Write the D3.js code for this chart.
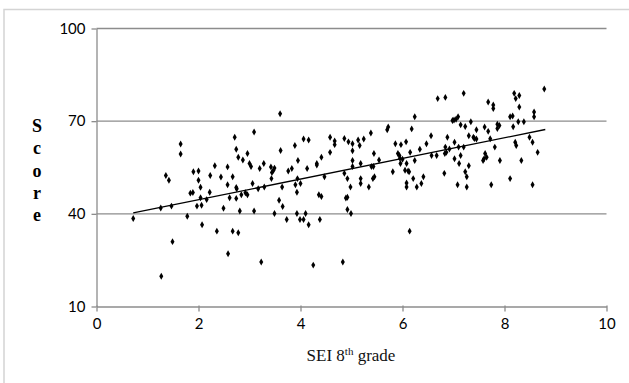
<!DOCTYPE html>
<html>
<head>
<meta charset="utf-8">
<script src="https://cdn.jsdelivr.net/npm/d3@7"></script>
<style>
  html, body { margin: 0; padding: 0; background: #fff; }
  svg { display: block; }
</style>
</head>
<body>
<div id="chart"></div>
<script>
// SEI 8th grade (x) vs score (y)
var seiValues = [
  0.72, 1.26, 1.27, 1.36, 1.42, 1.47, 1.49, 1.65, 1.65, 1.78, 1.84, 1.89, 1.90, 2.00, 2.00, 1.97, 2.04, 2.04, 2.06, 2.07,
  2.16, 2.22, 2.23, 2.32, 2.36, 2.44, 2.49, 2.57, 2.57, 2.58, 2.61, 2.67, 2.67, 2.71, 2.74, 2.74, 2.75, 2.74, 2.78, 2.78,
  2.81, 2.84, 2.87, 2.92, 2.96, 2.96, 3.00, 3.03, 3.06, 3.09, 3.09, 3.17, 3.20, 3.23, 3.28, 3.29, 3.42, 3.43, 3.44, 3.47,
  3.49, 3.49, 3.58, 3.60, 3.61, 3.64, 3.65, 3.73, 3.76, 3.83, 3.89, 3.90, 3.93, 3.93, 3.94, 3.95, 3.99, 4.00, 4.06, 4.06,
  4.10, 4.13, 4.16, 4.16, 4.25, 4.32, 4.32, 4.36, 4.38, 4.41, 4.41, 4.47, 4.58, 4.58, 4.67, 4.67, 4.83, 4.86, 4.86, 4.89,
  4.92, 4.94, 4.92, 4.92, 4.98, 4.99, 5.02, 5.02, 5.02, 5.02, 5.13, 5.16, 5.18, 5.18, 5.18, 5.24, 5.34, 5.38, 5.39, 5.42,
  5.43, 5.44, 5.45, 5.54, 5.70, 5.72, 5.81, 5.86, 5.91, 5.94, 5.95, 5.96, 5.97, 6.00, 6.05, 6.07, 6.08, 6.08, 6.08, 6.11,
  6.13, 6.14, 6.15, 6.18, 6.21, 6.24, 6.24, 6.28, 6.34, 6.37, 6.41, 6.47, 6.56, 6.57, 6.67, 6.69, 6.82, 6.84, 6.83, 6.86,
  6.84, 6.88, 6.92, 6.98, 7.01, 7.02, 7.02, 7.05, 7.08, 7.09, 7.10, 7.11, 7.14, 7.14, 7.20, 7.20, 7.23, 7.23, 7.26, 7.26,
  7.30, 7.30, 7.34, 7.39, 7.41, 7.45, 7.45, 7.58, 7.60, 7.62, 7.61, 7.65, 7.68, 7.68, 7.72, 7.74, 7.78, 7.78, 7.81, 7.86,
  7.86, 7.90, 7.91, 8.11, 8.11, 8.16, 8.17, 8.19, 8.21, 8.22, 8.23, 8.27, 8.29, 8.29, 8.33, 8.38, 8.49, 8.55, 8.55, 8.58,
  8.58, 8.65, 8.78
];
var scoreValues = [
  38.5, 41.9, 19.8, 52.4, 50.9, 42.5, 31.0, 62.6, 59.4, 39.2, 46.7, 46.9, 53.6, 53.9, 50.9, 42.5, 45.2, 48.6, 42.8, 36.5,
  44.6, 47.0, 52.4, 55.6, 34.4, 51.9, 41.8, 55.2, 49.4, 27.1, 45.2, 52.0, 34.4, 64.8, 60.9, 48.5, 48.1, 45.0, 33.9, 58.3,
  40.9, 46.2, 57.4, 46.8, 46.2, 59.5, 56.3, 55.3, 49.8, 66.5, 40.9, 48.1, 54.7, 24.4, 56.3, 48.7, 55.2, 51.4, 53.4, 54.1,
  54.8, 40.1, 44.4, 72.4, 60.5, 48.7, 42.4, 38.2, 53.9, 54.7, 62.1, 49.4, 47.0, 40.1, 51.4, 57.3, 38.2, 49.8, 38.2, 64.2,
  40.1, 54.7, 63.9, 36.5, 23.4, 56.3, 55.8, 46.2, 38.2, 45.6, 58.3, 52.0, 59.9, 64.8, 63.6, 62.4, 24.4, 64.4, 53.1, 45.1,
  45.4, 63.3, 51.4, 41.4, 48.7, 40.1, 62.7, 60.4, 57.3, 55.3, 63.9, 62.1, 56.3, 51.4, 49.8, 64.2, 48.7, 66.2, 55.3, 51.4,
  55.3, 59.5, 52.0, 57.4, 67.2, 68.1, 53.6, 62.7, 59.5, 58.9, 58.0, 56.3, 62.4, 57.7, 54.1, 63.3, 56.3, 50.0, 48.7, 53.9,
  53.6, 34.4, 59.9, 67.5, 51.4, 71.4, 57.3, 48.7, 60.9, 49.8, 52.0, 62.7, 65.3, 58.9, 58.9, 77.3, 53.1, 77.7, 59.5, 59.9,
  61.6, 64.8, 61.0, 70.2, 70.4, 63.2, 57.8, 70.6, 49.4, 71.4, 61.6, 56.3, 58.9, 68.8, 79.0, 61.6, 68.3, 53.6, 52.0, 48.7,
  65.3, 55.6, 69.8, 64.8, 64.4, 67.2, 64.2, 57.3, 57.8, 59.5, 68.1, 58.3, 76.2, 66.7, 64.3, 49.4, 75.2, 74.1, 61.6, 67.6,
  69.0, 68.6, 57.3, 51.4, 71.4, 71.7, 68.2, 79.0, 63.2, 77.3, 62.1, 69.8, 74.6, 78.3, 57.3, 69.8, 64.8, 49.4, 63.2, 73.0,
  71.4, 59.9, 80.4
];

// linear trend line end points
var trendX = [0.72, 8.8];
var trendY = [40.3, 67.3];

var xTicks = [0, 2, 4, 6, 8, 10];
var yTicks = [10, 40, 70, 100];

var width = 629, height = 383;
var margin = { top: 28.5, right: 22.5, bottom: 76.5, left: 96.5 };
var innerW = width - margin.left - margin.right,
  innerH = height - margin.top - margin.bottom;

var svg = d3.select("#chart")
  .append("svg")
  .attr("width", width)
  .attr("height", height);

// light frame around the chart
svg.append("rect")
  .attr("x", 4)
  .attr("y", 9.5)
  .attr("width", 700)
  .attr("height", 500)
  .style("fill", "none")
  .style("stroke", "#d4d4d4")
  .style("stroke-width", 1.5);

var g = svg.append("g")
  .attr("transform", "translate(" + margin.left + "," + margin.top + ")");

var x = d3.scaleLinear().domain([0, 10]).range([0, innerW]);
var y = d3.scaleLinear().domain([10, 100]).range([innerH, 0]);

// horizontal gridlines
g.append("g")
  .selectAll("line")
  .data(yTicks.filter(d => d > 10))
  .enter()
  .append("line")
  .attr("x1", 0)
  .attr("x2", innerW)
  .attr("y1", d => y(d))
  .attr("y2", d => y(d))
  .style("stroke", "#8c8c8c")
  .style("stroke-width", 1.3);

// Y axis
var yAxis = g.append("g")
  .call(d3.axisLeft(y).tickValues(yTicks).tickSize(5).tickSizeOuter(0).tickPadding(6));
// X axis
var xAxis = g.append("g")
  .attr("transform", "translate(0," + innerH + ")")
  .call(d3.axisBottom(x).tickValues(xTicks).tickSize(5).tickSizeOuter(0).tickPadding(7));

[yAxis, xAxis].forEach(function (ax) {
  ax.select(".domain").style("stroke", "#8c8c8c").style("stroke-width", 1.3);
  ax.selectAll(".tick line").style("stroke", "#8c8c8c").style("stroke-width", 1.3);
  ax.selectAll("text")
    .style("font-family", "Lato, 'Open Sans', sans-serif")
    .style("font-size", "15px")
    .style("fill", "#000");
});
xAxis.selectAll(".tick line").attr("y1", -1);

// dots
var points = seiValues.map((v, i) => ({ x: v, y: scoreValues[i] }));
g.append("g")
  .selectAll("path")
  .data(points)
  .enter()
  .append("path")
  .attr("d", d3.symbol().type(d3.symbolDiamond).size(14))
  .attr("transform", d => "translate(" + x(d.x) + "," + y(d.y) + ")")
  .style("fill", "#000");

// trend line
var line = d3.line()
  .x(d => x(d[0]))
  .y(d => y(d[1]));
g.append("path")
  .datum(trendX.map((v, i) => [v, trendY[i]]))
  .attr("d", line)
  .style("fill", "none")
  .style("stroke", "#000")
  .style("stroke-width", 1.3);

// y title, letters stacked
var yTitle = svg.append("text")
  .attr("text-anchor", "middle")
  .style("font-family", "'Liberation Serif', 'Times New Roman', serif")
  .style("font-weight", "bold")
  .style("font-size", "18px");
"Score".split("").forEach(function (ch, i) {
  yTitle.append("tspan")
    .attr("x", 37)
    .attr("y", 132 + i * 22.3)
    .text(ch);
});

// x title
var xTitle = svg.append("text")
  .attr("x", 351)
  .attr("y", 361)
  .attr("text-anchor", "middle")
  .style("font-family", "'Liberation Serif', 'Times New Roman', serif")
  .style("font-size", "17px")
  .style("fill", "#111");
xTitle.append("tspan").text("SEI 8");
xTitle.append("tspan").attr("dy", -6).style("font-size", "11px").text("th");
xTitle.append("tspan").attr("dy", 6).text(" grade");
</script>
</body>
</html>
